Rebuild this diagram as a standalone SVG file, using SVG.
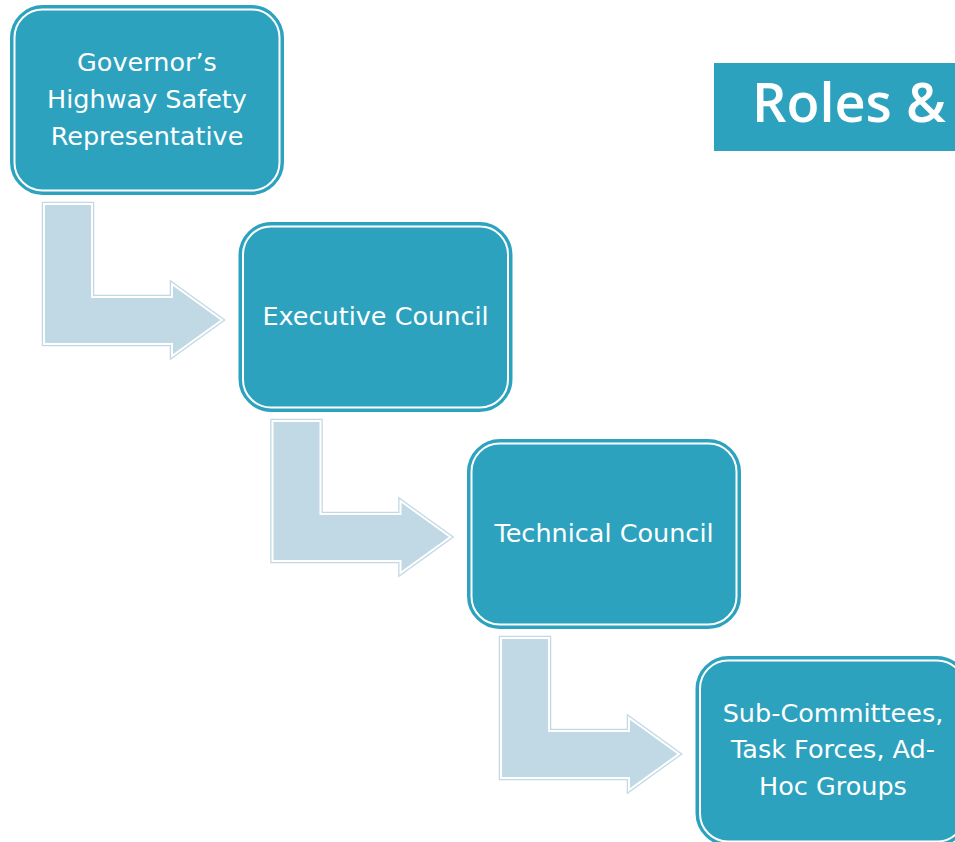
<svg xmlns="http://www.w3.org/2000/svg" width="955" height="842" viewBox="0 0 955 842">
<style>
.box{fill:#2DA2BE;stroke:#2DA2BE;stroke-width:6}
.boxin{fill:none;stroke:#ffffff;stroke-width:2}
.arr{fill:#C0D9E4;stroke:#C0D9E4;stroke-width:4.5;stroke-linejoin:miter}
.arrin{fill:none;stroke:#ffffff;stroke-width:2;stroke-linejoin:miter}
.lbl{font-family:"DejaVu Sans","Liberation Sans",sans-serif;font-size:25.5px;fill:#ffffff;text-anchor:middle}
.title{font-family:"Open Sans","Liberation Sans",sans-serif;font-size:54px;font-weight:600;fill:#ffffff}
</style>
<defs>
<path id="bent" d="M44,204 L92,204 L92,297 L172,297 L172,284 L222,320 L172,356 L172,344 L44,344 Z"/>
</defs>
<rect width="955" height="842" fill="#ffffff"/>
<g id="title">
<rect x="714" y="63" width="245" height="88" fill="#2DA2BE"/>
<text class="title" x="752" y="122">Roles &amp;</text>
</g>
<g id="connectors">
<g id="arrow1">
<use href="#bent" class="arr"/>
<use href="#bent" class="arrin"/>
</g>
<g id="arrow2" transform="translate(228.5,217)">
<use href="#bent" class="arr"/>
<use href="#bent" class="arrin"/>
</g>
<g id="arrow3" transform="translate(457,434)">
<use href="#bent" class="arr"/>
<use href="#bent" class="arrin"/>
</g>
</g>
<g id="node1">
<rect class="box" x="13" y="8" width="268" height="184" rx="30"/>
<rect class="boxin" x="14.5" y="9.5" width="265" height="181" rx="28"/>
<text class="lbl" x="147" y="71">Governor’s</text>
<text class="lbl" x="147" y="108">Highway Safety</text>
<text class="lbl" x="147" y="145">Representative</text>
</g>
<g id="node2">
<rect class="box" x="241.5" y="225" width="268" height="184" rx="30"/>
<rect class="boxin" x="243" y="226.5" width="265" height="181" rx="28"/>
<text class="lbl" x="375.5" y="325">Executive Council</text>
</g>
<g id="node3">
<rect class="box" x="470" y="442" width="268" height="184" rx="30"/>
<rect class="boxin" x="471.5" y="443.5" width="265" height="181" rx="28"/>
<text class="lbl" x="604" y="542">Technical Council</text>
</g>
<g id="node4">
<rect class="box" x="698.5" y="659" width="268" height="184" rx="30"/>
<rect class="boxin" x="700" y="660.5" width="265" height="181" rx="28"/>
<text class="lbl" x="833" y="722">Sub-Committees,</text>
<text class="lbl" x="833" y="758">Task Forces, Ad-</text>
<text class="lbl" x="833" y="795">Hoc Groups</text>
</g>
</svg>
